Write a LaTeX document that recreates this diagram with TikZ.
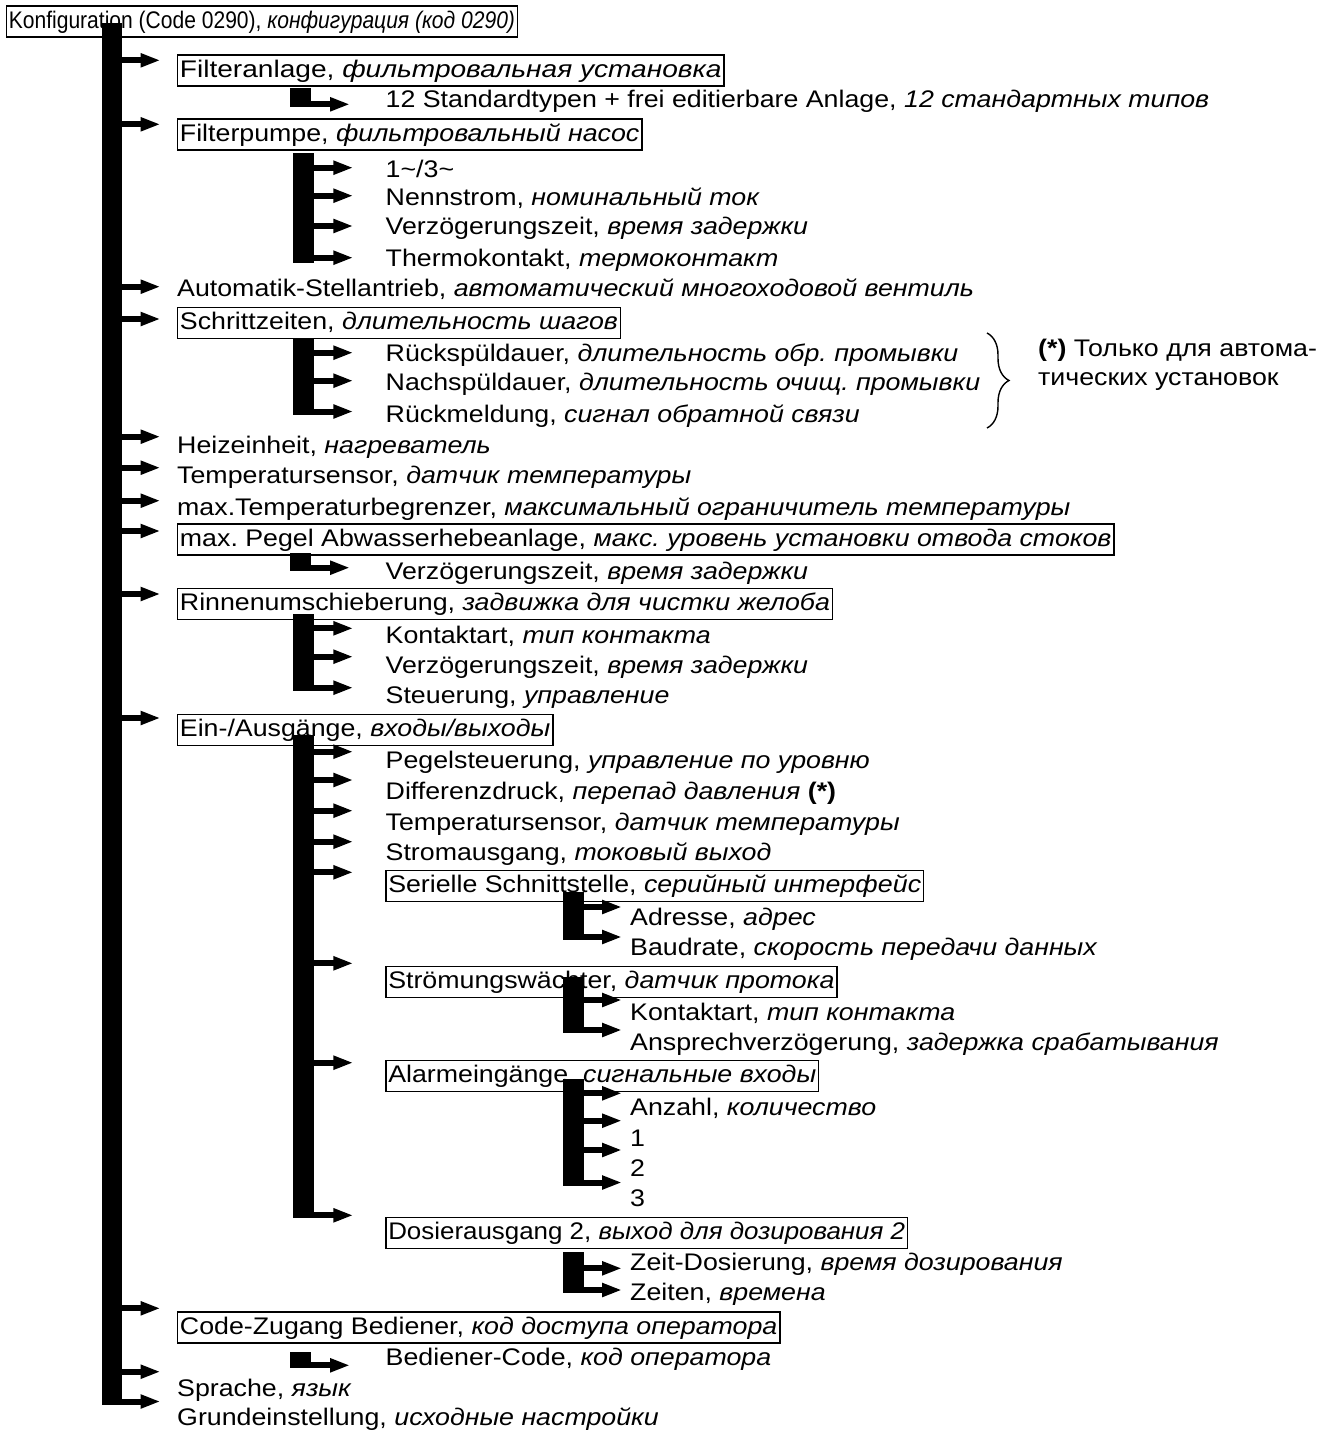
\documentclass[tikz,border=0pt]{standalone}
\usepackage{fontspec}
\setmainfont[FakeStretch=1.115]{Liberation Sans}
\newfontfamily\condfont[FakeStretch=0.877]{Liberation Sans}
\newfontfamily\widefont[FakeStretch=1.17]{Liberation Sans}
\newfontfamily\narfont[FakeStretch=1.08]{Liberation Sans}
\usetikzlibrary{arrows.meta,decorations.pathreplacing}
\newcommand\fsz{\fontsize{24}{28}\selectfont\frenchspacing}
\begin{document}
\begin{tikzpicture}[x=1pt,y=-1pt,
 txt/.style={anchor=base west, inner sep=0pt, font=\fsz},
 bx/.style={txt, draw, line width=1.5pt, inner xsep=2.5pt, inner ysep=3pt, text height=19pt, text depth=6pt},
 barfill/.style={fill=black},
 arr/.style={line width=6pt, -{Triangle[length=20pt,width=13pt]}}]
\useasboundingbox (0,0) rectangle (1342,1432);
% ---- texts
\node[bx, font=\fsz\condfont] (k) at (5.6,28) {Konfiguration (Code 0290), \textit{конфигурация (код 0290)}};
\node[bx, font=\fsz\widefont] (fa) at (176.7,77) {Filteranlage, \textit{фильтровальная установка}};
\node[txt] (fa1) at (385.5,107) {12 Standardtypen + frei editierbare Anlage, \textit{12 стандартных типов}};
\node[bx] (fp) at (176.7,141) {Filterpumpe, \textit{фильтровальный насос}};
\node[txt] (fp1) at (385.5,177) {1\textasciitilde/3\textasciitilde};
\node[txt] (fp2) at (385.5,205) {Nennstrom, \textit{номинальный ток}};
\node[txt] (fp3) at (385.5,234.5) {Verzögerungszeit, \textit{время задержки}};
\node[txt] (fp4) at (385.5,266) {Thermokontakt, \textit{термоконтакт}};
\node[txt] (au) at (177,296.5) {Automatik-Stellantrieb, \textit{автоматический многоходовой вентиль}};
\node[bx] (sz) at (176.7,329.5) {Schrittzeiten, \textit{длительность шагов}};
\node[txt] (sz1) at (385.5,361) {Rückspüldauer, \textit{длительность обр. промывки}};
\node[txt] (sz2) at (385.5,390.5) {Nachspüldauer, \textit{длительность очищ. промывки}};
\node[txt] (sz3) at (385.5,422) {Rückmeldung, \textit{сигнал обратной связи}};
\node[txt] (hz) at (177,453.5) {Heizeinheit, \textit{нагреватель}};
\node[txt] (ts) at (177,483.5) {Temperatursensor, \textit{датчик температуры}};
\node[txt] (mt) at (177,515) {max.Temperaturbegrenzer, \textit{максимальный ограничитель температуры}};
\node[bx] (mp) at (176.7,546) {max. Pegel Abwasserhebeanlage, \textit{макс. уровень установки отвода стоков}};
\node[txt] (mp1) at (385.5,579) {Verzögerungszeit, \textit{время задержки}};
\node[bx] (rn) at (176.7,610.5) {Rinnenumschieberung, \textit{задвижка для чистки желоба}};
\node[txt] (rn1) at (385.5,643) {Kontaktart, \textit{тип контакта}};
\node[txt] (rn2) at (385.5,673) {Verzögerungszeit, \textit{время задержки}};
\node[txt] (rn3) at (385.5,703) {Steuerung, \textit{управление}};
\node[bx] (ea) at (176.7,736.5) {Ein-/Ausgänge, \textit{входы/выходы}};
\node[txt] (ea1) at (385.5,768.5) {Pegelsteuerung, \textit{управление по уровню}};
\node[txt] (ea2) at (385.5,799.5) {Differenzdruck, \textit{перепад давления} \textbf{(*)}};
\node[txt] (ea3) at (385.5,830) {Temperatursensor, \textit{датчик температуры}};
\node[txt] (ea4) at (385.5,860) {Stromausgang, \textit{токовый выход}};
\node[bx] (ss) at (385,892.5) {Serielle Schnittstelle, \textit{серийный интерфейс}};
\node[txt] (ss1) at (630,925) {Adresse, \textit{адрес}};
\node[txt] (ss2) at (630,955.5) {Baudrate, \textit{скорость передачи данных}};
\node[bx] (sw) at (385,988.5) {Strömungswächter, \textit{датчик протока}};
\node[txt] (sw1) at (630,1020.5) {Kontaktart, \textit{тип контакта}};
\node[txt] (sw2) at (630,1050.5) {Ansprechverzögerung, \textit{задержка срабатывания}};
\node[bx] (al) at (385,1082.5) {Alarmeingänge, \textit{сигнальные входы}};
\node[txt] (al1) at (630,1115) {Anzahl, \textit{количество}};
\node[txt] (al2) at (630,1146.5) {1};
\node[txt] (al3) at (630,1176.5) {2};
\node[txt] (al4) at (630,1206.5) {3};
\node[bx, font=\fsz\narfont] (ds) at (385,1239.5) {Dosierausgang 2, \textit{выход для дозирования 2}};
\node[txt] (ds1) at (630,1270.5) {Zeit-Dosierung, \textit{время дозирования}};
\node[txt] (ds2) at (630,1300.5) {Zeiten, \textit{времена}};
\node[bx] (cz) at (176.7,1334) {Code-Zugang Bediener, \textit{код доступа оператора}};
\node[txt] (cz1) at (385.5,1365) {Bediener-Code, \textit{код оператора}};
\node[txt] (sp) at (177,1396.5) {Sprache, \textit{язык}};
\node[txt] (ge) at (177,1425) {Grundeinstellung, \textit{исходные настройки}};
\node[txt] (n1) at (1038,356) {\textbf{(*)} Только для автома-};
\node[txt] (n2) at (1038,385) {тических установок};
% ---- brace
\draw[line width=1.4pt, decorate, decoration={brace, amplitude=22pt}] (987,333) -- (987,428);
% ---- main bar
\fill[barfill] (102,23) rectangle (122.3,1404.5);
\foreach \y in {60.3,124.3,286.7,319,436.7,467.7,500.7,531,594,718,1308.3,1371.7,1401.5}
  \draw[arr] (121,\y) -- (160.5,\y);
% ---- level 2 bars
\fill[barfill] (293.3,153.3) rectangle (314.3,262.7);
\foreach \y in {167.7,195.7,226,257.7} \draw[arr] (313,\y) -- (353.3,\y);
\fill[barfill] (293.3,338.3) rectangle (314.3,414.5);
\foreach \y in {352.7,380.7,411.5} \draw[arr] (313,\y) -- (353.3,\y);
\fill[barfill] (293.3,614) rectangle (314.3,690.7);
\foreach \y in {628.3,656.7,687.7} \draw[arr] (313,\y) -- (353.3,\y);
\fill[barfill] (293.3,735) rectangle (314.3,1218.3);
\foreach \y in {751.7,780,810.7,841.7,872.3,963.3,1062.7,1215.3} \draw[arr] (313,\y) -- (353.3,\y);
% L blocks
\fill[barfill] (290,88.3) rectangle (310.7,107.3);
\draw[arr] (309,104.3) -- (350,104.3);
\fill[barfill] (290,552.7) rectangle (310.7,570.7);
\draw[arr] (309,567.7) -- (350,567.7);
\fill[barfill] (290,1351.7) rectangle (310.7,1368.3);
\draw[arr] (309,1365.3) -- (350,1365.3);
% ---- level 3 bars
\fill[barfill] (562.7,892) rectangle (583.7,940);
\foreach \y in {907,937} \draw[arr] (582.5,\y) -- (622,\y);
\fill[barfill] (562.7,977) rectangle (583.7,1033);
\foreach \y in {1000,1030} \draw[arr] (582.5,\y) -- (622,\y);
\fill[barfill] (562.7,1079.3) rectangle (583.7,1185.5);
\foreach \y in {1093.3,1120.7,1150,1182.5} \draw[arr] (582.5,\y) -- (622,\y);
\fill[barfill] (562.7,1251.7) rectangle (583.7,1293);
\foreach \y in {1268.3,1290} \draw[arr] (582.5,\y) -- (622,\y);
\end{tikzpicture}
\end{document}
